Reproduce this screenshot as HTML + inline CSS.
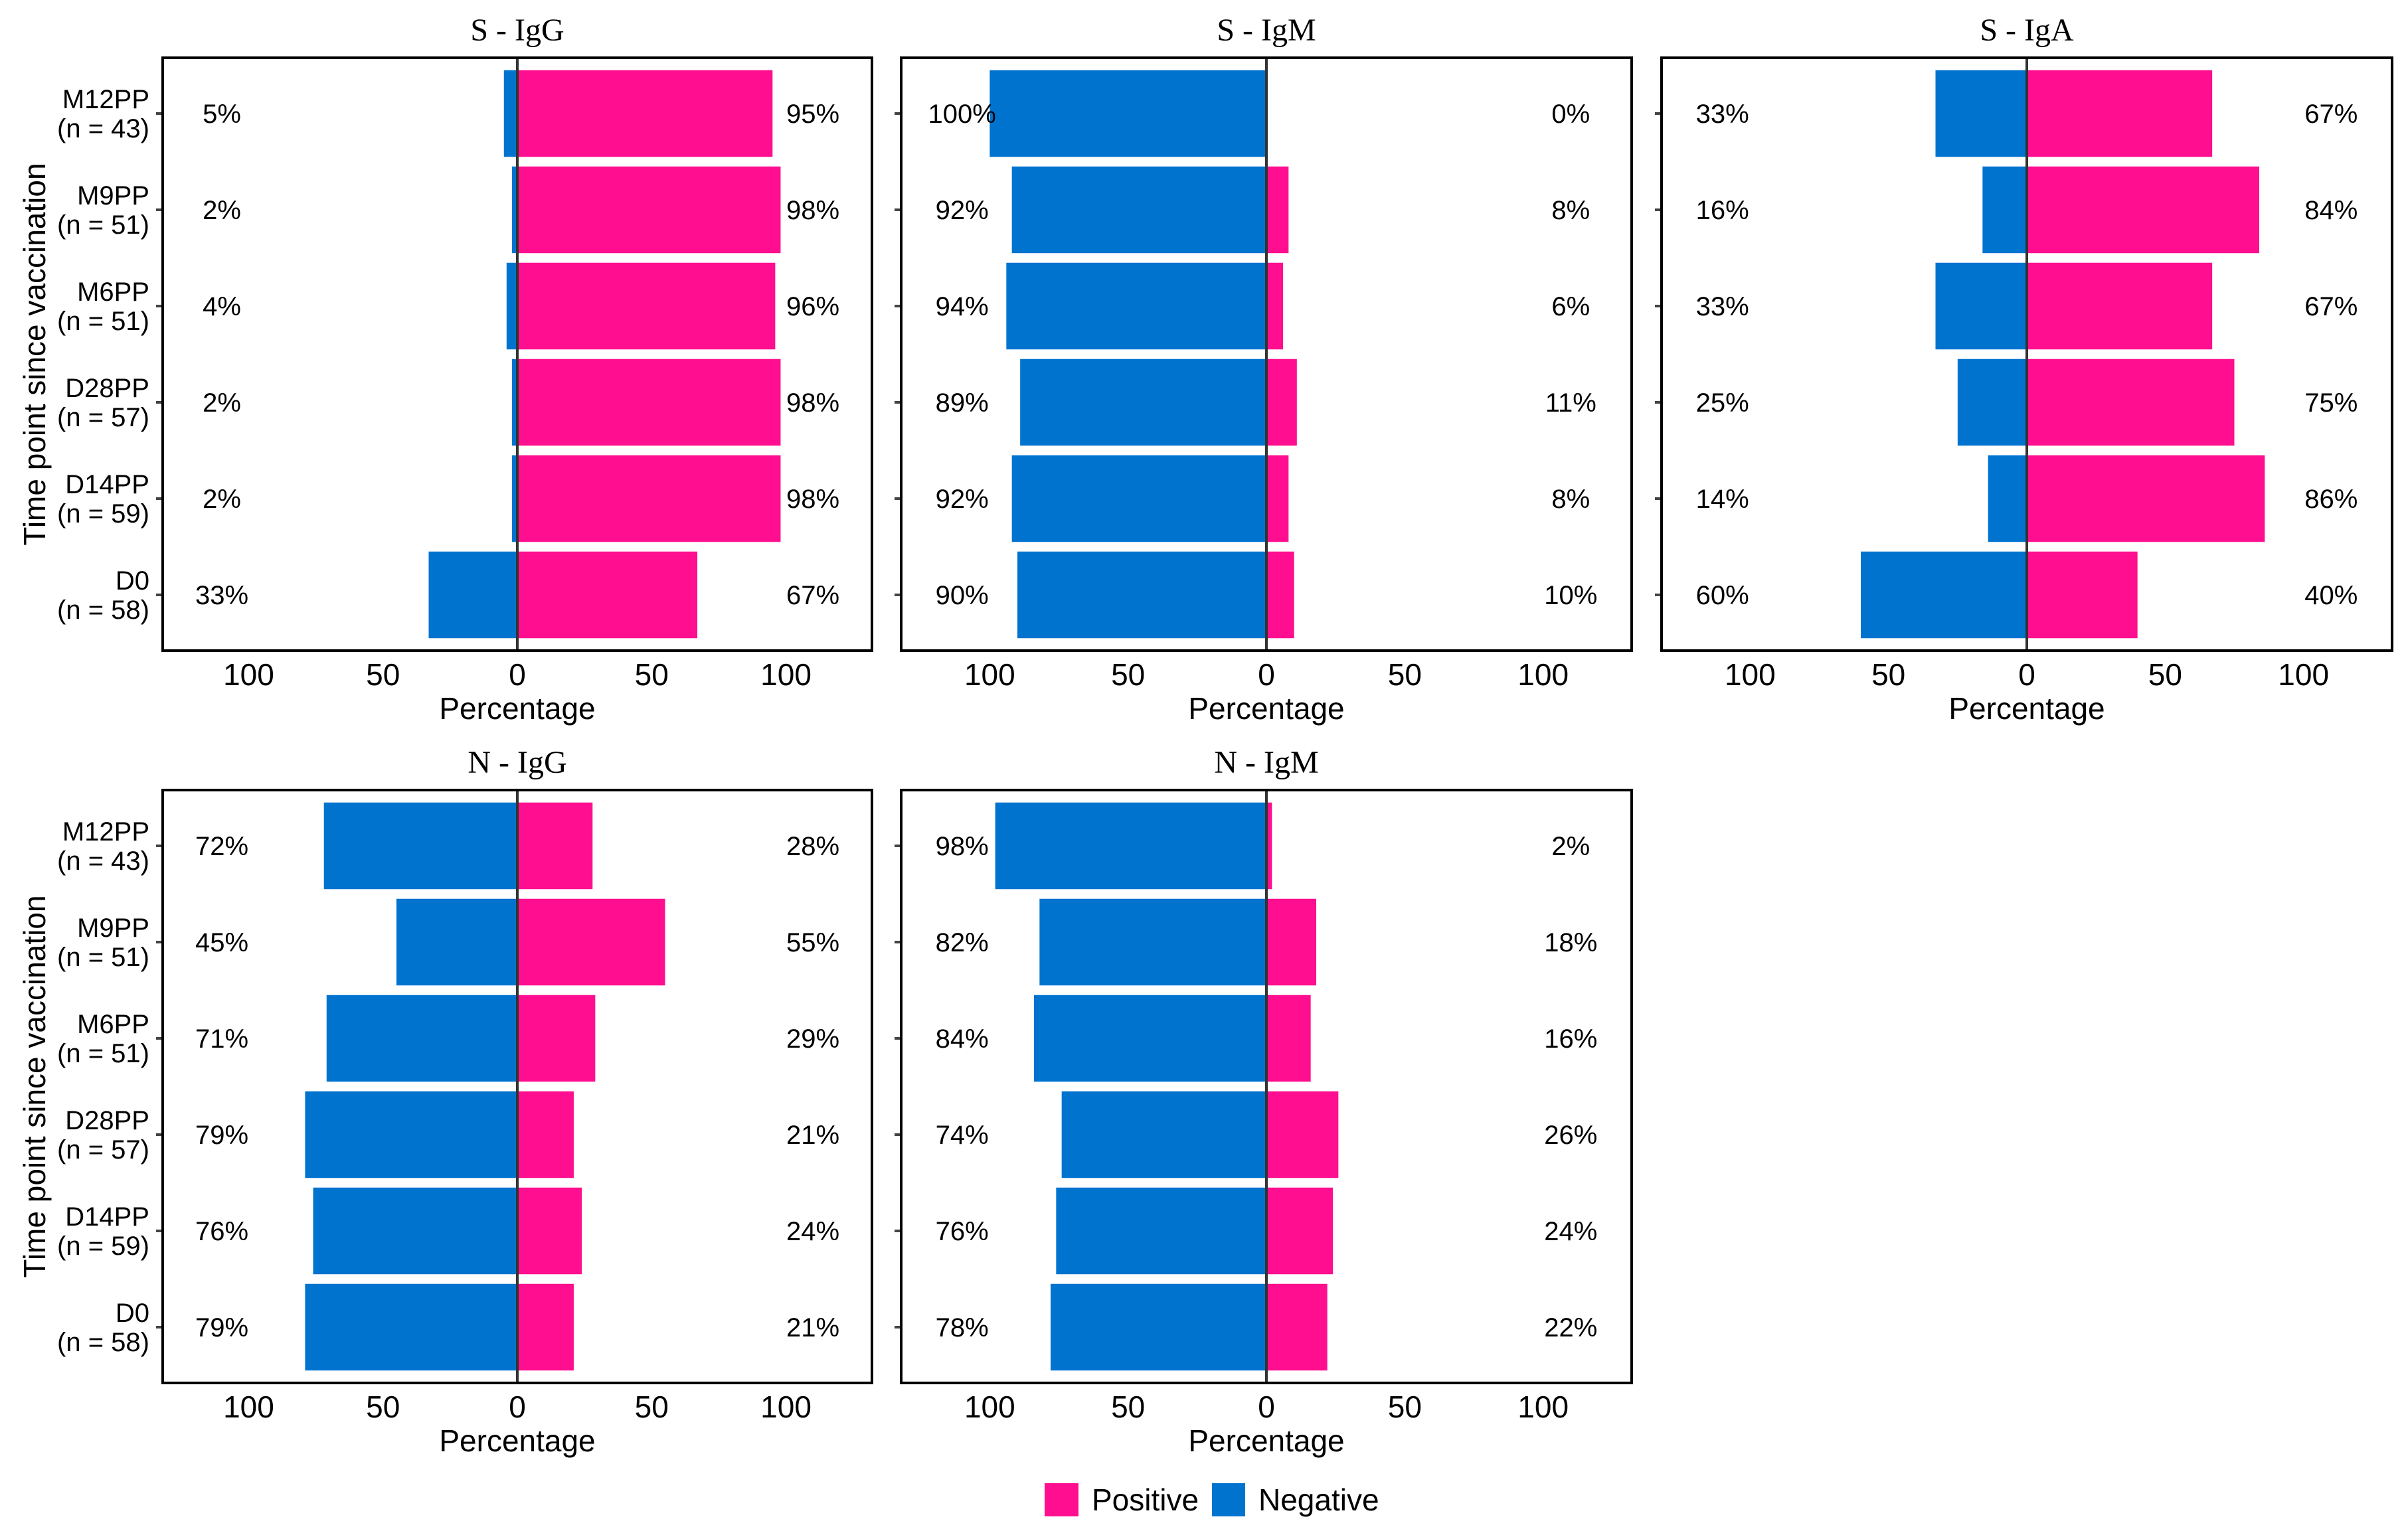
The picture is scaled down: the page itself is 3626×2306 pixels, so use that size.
<!DOCTYPE html>
<html><head><meta charset="utf-8"><style>
html,body{margin:0;padding:0;background:#fff;}
svg{display:block;}
text{font-family:"Liberation Sans",sans-serif;fill:#000;}
.ttl{font-family:"Liberation Serif",serif;}
</style></head><body>
<svg id="chart" width="3626" height="2306" viewBox="0 0 3626 2306" xmlns="http://www.w3.org/2000/svg"></svg>
<script>
const categories = ["M12PP\n(n = 43)","M9PP\n(n = 51)","M6PP\n(n = 51)","D28PP\n(n = 57)","D14PP\n(n = 59)","D0\n(n = 58)"];
const panelTitles = ["S - IgG","S - IgM","S - IgA","N - IgG","N - IgM"];
const sIgGNeg = [5,2,4,2,2,33];
const sIgGPos = [95,98,96,98,98,67];
const sIgMNeg = [100,92,94,89,92,90];
const sIgMPos = [0,8,6,11,8,10];
const sIgANeg = [33,16,33,25,14,60];
const sIgAPos = [67,84,67,75,86,40];
const nIgGNeg = [72,45,71,79,76,79];
const nIgGPos = [28,55,29,21,24,21];
const nIgMNeg = [98,82,84,74,76,78];
const nIgMPos = [2,18,16,26,24,22];
const xTicks = [-100,-50,0,50,100];
const xTickLabels = ["100","50","0","50","100"];

const NS="http://www.w3.org/2000/svg";
const svg=document.getElementById('chart');
function mk(tag,attrs,parent){const e=document.createElementNS(NS,tag);for(const k in attrs)e.setAttribute(k,attrs[k]);(parent||svg).appendChild(e);return e;}

const PINK="#ff0f8f", BLUE="#0073cf";
const panels=[
 {l:245,r:1313,t:87,b:980,neg:sIgGNeg,pos:sIgGPos,ylab:true},
 {l:1357,r:2457,t:87,b:980,neg:sIgMNeg,pos:sIgMPos},
 {l:2502,r:3602,t:87,b:980,neg:sIgANeg,pos:sIgAPos},
 {l:245,r:1313,t:1190,b:2083,neg:nIgGNeg,pos:nIgGPos,ylab:true},
 {l:1357,r:2457,t:1190,b:2083,neg:nIgMNeg,pos:nIgMPos}
];
const DOM=132, BAND=145;
panels.forEach((p,pi)=>{
  const g=mk('g',{});
  
  
  const x=v=>p.l+(v+DOM)/(2*DOM)*(p.r-p.l);
  const yc=i=>(p.t+p.b)/2+(i-2.5)*BAND;
  const bh=BAND*0.9;
  const t=mk('text',{x:(p.l+p.r)/2,y:p.t-26,'text-anchor':'middle','font-size':48,class:'ttl'},g);
  t.textContent=panelTitles[pi];
  
  
  categories.forEach((c,i)=>{
    const n=p.neg[i], q=p.pos[i];
    const rn=mk('rect',{x:x(-n),y:yc(i)-bh/2,width:x(0)-x(-n),height:bh,fill:BLUE},g);
    
    
    const rp=mk('rect',{x:x(0),y:yc(i)-bh/2,width:x(q)-x(0),height:bh,fill:PINK},g);
    
    
    const ln=mk('text',{x:x(-110),y:yc(i)+14,'text-anchor':'middle','font-size':40},g);
    ln.textContent=n+'%';
    
    
    const lp=mk('text',{x:x(110),y:yc(i)+14,'text-anchor':'middle','font-size':40},g);
    lp.textContent=q+'%';
    
    
    mk('line',{x1:p.l-10,x2:p.l,y1:yc(i),y2:yc(i),stroke:'#444','stroke-width':4},g);
    if(p.ylab){
      const parts=c.split('\n');
      const ct=mk('text',{x:p.l-20,y:yc(i)-8,'text-anchor':'end','font-size':40},g);
      ct.textContent=parts[0];
      
      
      const ct2=mk('text',{x:p.l-20,y:yc(i)+36,'text-anchor':'end','font-size':40},g);
      ct2.textContent=parts[1];
      
      
    }
  });
  mk('line',{x1:x(0),x2:x(0),y1:p.t,y2:p.b,stroke:'#333','stroke-width':4},g);
  const box=mk('rect',{x:p.l,y:p.t,width:p.r-p.l,height:p.b-p.t,fill:'none',stroke:'#000','stroke-width':4},g);
  
  
  xTicks.forEach((v,k)=>{
    const tl=mk('text',{x:x(v),y:p.b+52,'text-anchor':'middle','font-size':46},g);
    tl.textContent=xTickLabels[k];
    
    
  });
  const xt=mk('text',{x:x(0),y:p.b+103,'text-anchor':'middle','font-size':46},g);
  xt.textContent='Percentage';
  
  
  if(p.ylab){
    const cy=(p.t+p.b)/2;
    const yt=mk('text',{x:0,y:0,'text-anchor':'middle','font-size':46,transform:`translate(68,${cy}) rotate(-90)`},g);
    yt.textContent='Time point since vaccination';
    
    
  }
});
const lg=mk('g',{});


const k1=mk('rect',{x:1573,y:2234,width:51,height:50,fill:PINK},lg);


const t1=mk('text',{x:1644,y:2275,'font-size':46},lg);t1.textContent='Positive';


const k2=mk('rect',{x:1825,y:2234,width:50,height:50,fill:BLUE},lg);


const t2=mk('text',{x:1895,y:2275,'font-size':46},lg);t2.textContent='Negative';


</script>
</body></html>
